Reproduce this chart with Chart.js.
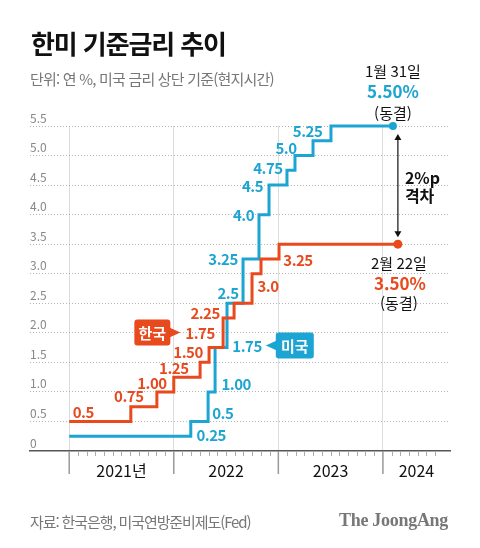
<!DOCTYPE html>
<html lang="ko">
<head>
<meta charset="utf-8">
<title>한미 기준금리 추이</title>
<script src="https://cdn.jsdelivr.net/npm/chart.js@4.4.1/dist/chart.umd.min.js"></script>
<style>
  html, body { margin: 0; padding: 0; background: #fff; }
  body { width: 480px; height: 548px; position: relative; overflow: hidden;
         font-family: 'Noto Sans CJK KR', 'Noto Sans', sans-serif; }
  #chart { position: absolute; left: 0; top: 0; }
  .title { position: absolute; left: 31px; top: 30px; font-size: 26px; font-weight: 700;
           letter-spacing: -1.1px; color: #111; line-height: 1; white-space: nowrap; }
  .sub { position: absolute; left: 30px; top: 71px; font-size: 15px; color: #777;
         letter-spacing: -0.8px; line-height: 1; white-space: nowrap; }
  .src { position: absolute; left: 30px; top: 514px; font-size: 15px; color: #777;
         letter-spacing: -1.1px; line-height: 1; white-space: nowrap; }
  .logo { position: absolute; right: 32px; top: 511px; font-family: 'Liberation Serif', serif;
          font-weight: 700; font-size: 18px; color: #777; letter-spacing: -0.3px; line-height: 1; }
</style>
</head>
<body>
<canvas id="chart" width="480" height="548"></canvas>
<div class="title">한미 기준금리 추이</div>
<div class="sub">단위: 연 %, 미국 금리 상단 기준(현지시간)</div>
<div class="src">자료: 한국은행, 미국연방준비제도(Fed)</div>
<div class="logo">The JoongAng</div>
<script>
// months counted from January 2021
const krMonths = [0, 7.07, 10.06, 12.0, 15.02, 16.05, 17.66, 18.92, 20.98, 22.01, 24.08, 37.72];
const krRates = [0.5, 0.75, 1.0, 1.25, 1.5, 1.75, 2.25, 2.5, 3.0, 3.25, 3.5, 3.5];
const krLabels = ['0.5', '0.75', '1.00', '1.25', '1.50', '1.75', '2.25', '', '3.0', '3.25', '', ''];

const usMonths = [0, 13.95, 15.94, 16.74, 18.11, 19.95, 21.78, 22.93, 24.99, 25.91, 27.98, 30.04, 37.15];
const usRates = [0.25, 0.5, 1.0, 1.75, 2.5, 3.25, 4.0, 4.5, 4.75, 5.0, 5.25, 5.5, 5.5];
const usLabels = ['0.25', '0.5', '1.00', '1.75', '2.5', '3.25', '4.0', '4.5', '4.75', '5.0', '5.25', '', ''];

const yearStarts = [0, 12, 24, 36];
const yearLabels = ['2021년', '2022', '2023', '2024'];
const monthTicks = Array.from({ length: 43 }, (_, i) => i);
const yTicks = [0, 0.5, 1, 1.5, 2, 2.5, 3, 3.5, 4, 4.5, 5, 5.5];

const usEnd = ['1월 31일', '5.50%', '(동결)'];
const krEnd = ['2월 22일', '3.50%', '(동결)'];
const gapText = ['2%p', '격차'];

const RED = '#e8491d';
const BLUE = '#1ca5d2';
const FONT = '"Noto Sans CJK KR", "Noto Sans", sans-serif';

// label centre offsets (px) from the start of each step
const krOffsets = [[14, -9], [-2, -10], [-5, -9], [0, -9], [-12, -10], [-9, -14], [-18, -5], null, [16, 13], [37, 1], null, null];
const usOffsets = [[142, -1], [32, -8], [28, -8], [32, -1], [1, -10], [-20, 0], [-15.5, 1], [-16.5, 1], [-19, -2], [-9, -7], [-5.5, -9], null, null];

function toPoints(xs, ys) {
    return xs.map((m, i) => ({ x: m, y: ys[i] }));
}

function callout(ctx, text, tipX, tipY, dir, color, w) {
    const h = 26, arrow = 10;
    const boxX = dir < 0 ? tipX + arrow : tipX - arrow - w;
    ctx.fillStyle = color;
    ctx.beginPath();
    ctx.roundRect(boxX, tipY - h / 2, w, h, 3);
    ctx.fill();
    ctx.beginPath();
    const baseX = dir < 0 ? boxX + 1 : boxX + w - 1;
    ctx.moveTo(baseX, tipY - 5);
    ctx.lineTo(tipX, tipY);
    ctx.lineTo(baseX, tipY + 5);
    ctx.closePath();
    ctx.fill();
    ctx.fillStyle = '#fff';
    ctx.font = 'bold 15px ' + FONT;
    ctx.textAlign = 'center';
    ctx.textBaseline = 'middle';
    ctx.fillText(text, boxX + w / 2, tipY + 1);
}

const decorPlugin = {
    id: 'decor',
    afterDraw(chart) {
        const { ctx, scales: { x, y }, chartArea } = chart;
        const axisY = chartArea.bottom;
        ctx.save();

        // month ticks and year ticks under the axis
        ctx.strokeStyle = '#aaa';
        ctx.lineWidth = 1;
        monthTicks.forEach(m => {
            if (yearStarts.includes(m)) return;
            const px = Math.round(x.getPixelForValue(m)) + 0.5;
            ctx.beginPath();
            ctx.moveTo(px, axisY);
            ctx.lineTo(px, axisY + 5);
            ctx.stroke();
        });
        ctx.strokeStyle = '#999';
        ctx.lineWidth = 1.5;
        yearStarts.forEach(m => {
            const px = x.getPixelForValue(m);
            ctx.beginPath();
            ctx.moveTo(px, axisY);
            ctx.lineTo(px, axisY + 23);
            ctx.stroke();
        });

        // year labels
        ctx.fillStyle = '#111';
        ctx.font = '16px ' + FONT;
        ctx.textAlign = 'center';
        ctx.textBaseline = 'middle';
        yearStarts.forEach((m, i) => {
            const a = x.getPixelForValue(m);
            const b = i + 1 < yearStarts.length ? x.getPixelForValue(yearStarts[i + 1]) : chartArea.right;
            ctx.fillText(yearLabels[i], (a + b) / 2, axisY + 20);
        });

        // step value labels
        ctx.font = 'bold 15px ' + FONT;
        ctx.letterSpacing = '-0.5px';
        const series = [
            [krMonths, krRates, krLabels, krOffsets, RED],
            [usMonths, usRates, usLabels, usOffsets, BLUE]
        ];
        const pos = {};
        series.forEach(([xs, ys, labels, offs, color], s) => {
            ctx.fillStyle = color;
            labels.forEach((t, i) => {
                if (!t || !offs[i]) return;
                const px = x.getPixelForValue(xs[i]) + offs[i][0];
                const py = y.getPixelForValue(ys[i]) + offs[i][1];
                ctx.fillText(t, px, py);
                if (ys[i] === 1.75) pos[s] = { px, py, w: ctx.measureText(t).width };
            });
        });
        ctx.letterSpacing = '0px';

        // country callouts beside the 1.75 labels
        callout(ctx, '한국', pos[0].px - pos[0].w / 2 - 5, pos[0].py - 1, 1, RED, 36);
        callout(ctx, '미국', pos[1].px + pos[1].w / 2 + 4, pos[1].py - 1, -1, BLUE, 38);

        // end notes
        const ux = x.getPixelForValue(usMonths[usMonths.length - 1]);
        const uy = y.getPixelForValue(usRates[usRates.length - 1]);
        const kx = x.getPixelForValue(krMonths[krMonths.length - 1]);
        const ky = y.getPixelForValue(krRates[krRates.length - 1]);

        ctx.textAlign = 'center';
        ctx.fillStyle = '#111';
        ctx.font = '15px ' + FONT;
        ctx.fillText(usEnd[0], ux, uy - 55);
        ctx.fillText(usEnd[2], ux, uy - 13);
        ctx.fillText(krEnd[0], kx + 1, ky + 19);
        ctx.fillText(krEnd[2], kx + 1, ky + 59);
        ctx.font = 'bold 17px ' + FONT;
        ctx.fillStyle = BLUE;
        ctx.fillText(usEnd[1], ux, uy - 34);
        ctx.fillStyle = RED;
        ctx.fillText(krEnd[1], kx + 2, ky + 39);

        // gap arrow
        const top = uy + 8, bot = ky - 7;
        ctx.strokeStyle = '#111';
        ctx.fillStyle = '#111';
        ctx.lineWidth = 1.2;
        ctx.beginPath();
        ctx.moveTo(kx, top + 3);
        ctx.lineTo(kx, bot - 3);
        ctx.stroke();
        [[top, 1], [bot, -1]].forEach(([yy, d]) => {
            ctx.beginPath();
            ctx.moveTo(kx, yy);
            ctx.lineTo(kx - 3.5, yy + 6 * d);
            ctx.lineTo(kx + 3.5, yy + 6 * d);
            ctx.closePath();
            ctx.fill();
        });
        ctx.textAlign = 'left';
        ctx.font = 'bold 16px ' + FONT;
        ctx.fillText(gapText[0], kx + 7, (uy + ky) / 2 - 7);
        ctx.fillText(gapText[1], kx + 7, (uy + ky) / 2 + 11);

        ctx.restore();
    }
};

const lastRadius = (r) => (ctx) => ctx.dataIndex === ctx.dataset.data.length - 1 ? r : 0;

new Chart(document.getElementById('chart'), {
    type: 'line',
    data: {
        datasets: [
            {
                label: '한국',
                data: toPoints(krMonths, krRates),
                borderColor: RED,
                backgroundColor: RED,
                borderWidth: 3,
                stepped: true,
                borderJoinStyle: 'miter',
                pointRadius: lastRadius(4.5),
                pointBorderWidth: 0,
                clip: false
            },
            {
                label: '미국',
                data: toPoints(usMonths, usRates),
                borderColor: BLUE,
                backgroundColor: BLUE,
                borderWidth: 3,
                stepped: true,
                borderJoinStyle: 'miter',
                pointRadius: lastRadius(4),
                pointBorderWidth: 0,
                clip: false
            }
        ]
    },
    options: {
        responsive: false,
        devicePixelRatio: 1,
        animation: false,
        events: [],
        layout: { padding: { left: 30, right: 30, top: 126, bottom: 97 } },
        scales: {
            x: {
                type: 'linear',
                min: -4.5,
                max: 43.7,
                afterBuildTicks: (scale) => { scale.ticks = yearStarts.map(v => ({ value: v })); },
                ticks: { display: false },
                grid: { color: '#dcdcdc', lineWidth: 1, drawTicks: false },
                border: { display: true, color: '#555', width: 1.5 }
            },
            y: {
                min: 0,
                max: 5.5,
                afterBuildTicks: (scale) => { scale.ticks = yTicks.map(v => ({ value: v })); },
                ticks: {
                    mirror: true,
                    padding: 0,
                    labelOffset: -8,
                    color: '#888',
                    font: { family: FONT, size: 12 },
                    callback: (v) => (v === 0 ? '0' : v.toFixed(1))
                },
                grid: {
                    drawTicks: false,
                    lineWidth: 1,
                    color: (c) => (c.tick && c.tick.value === 0 ? 'rgba(0,0,0,0)' : '#b4b4b4')
                },
                border: { display: false, dash: [1, 2] }
            }
        },
        plugins: {
            legend: { display: false },
            tooltip: { enabled: false }
        }
    },
    plugins: [decorPlugin]
});
</script>
</body>
</html>
